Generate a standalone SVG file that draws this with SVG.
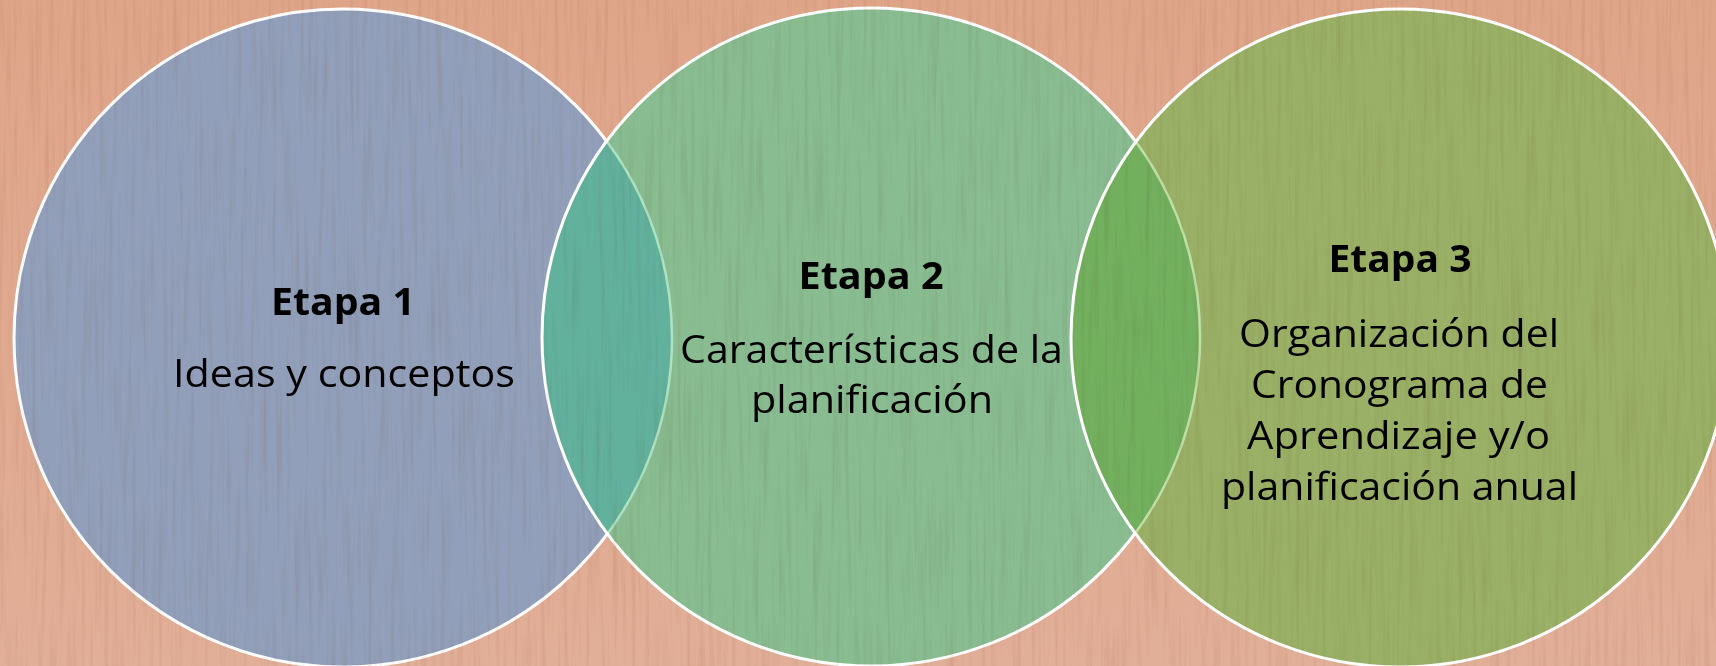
<svg xmlns="http://www.w3.org/2000/svg" width="1716" height="666" viewBox="0 0 1716 666">
<defs>
<style>
.t{font-family:"Open Sans","Noto Sans","DejaVu Sans",sans-serif;font-size:38px;fill:#000;text-anchor:middle}
.b{font-weight:700}
.ring{fill:none;stroke:#fff;stroke-width:3}
.pale{fill:none;stroke-width:2.5}
</style>
<linearGradient id="bg" x1="0" y1="0" x2="0" y2="1">
<stop offset="0" stop-color="#dfa589"/>
<stop offset="1" stop-color="#e1ae97"/>
</linearGradient>
<clipPath id="c1"><circle cx="343" cy="338" r="329"/></clipPath>
<clipPath id="c2"><circle cx="871" cy="337" r="329"/></clipPath>
<clipPath id="c3"><circle cx="1400" cy="338" r="329"/></clipPath>
<filter id="wood" x="0" y="0" width="1716" height="666" filterUnits="userSpaceOnUse">
<feTurbulence type="fractalNoise" baseFrequency="0.22 0.008" numOctaves="3" seed="7"/>
<feColorMatrix type="matrix" values="0 0 0 0 0.6  0 0 0 0 0.42  0 0 0 0 0.32  2 0 0 0 -0.95"/>
</filter>
</defs>
<rect width="1716" height="666" fill="url(#bg)"/>
<g id="etapa1">
<circle cx="343" cy="338" r="329" fill="#929fba"/>
<circle cx="343" cy="338" r="329" class="ring"/>
<text class="t b" x="343" y="315" textLength="144" lengthAdjust="spacingAndGlyphs">Etapa 1</text>
<text class="t" x="344" y="387" textLength="342" lengthAdjust="spacingAndGlyphs">Ideas y conceptos</text>
</g>
<g id="etapa2">
<circle cx="871" cy="337" r="329" fill="#89bc91"/>
<circle cx="343" cy="338" r="329" fill="#62b19d" clip-path="url(#c2)"/>
<circle cx="343" cy="338" r="329" class="pale" stroke="#ade3c3" clip-path="url(#c2)"/>
<circle cx="871" cy="337" r="329" class="ring"/>
<text class="t b" x="871" y="289" textLength="145" lengthAdjust="spacingAndGlyphs">Etapa 2</text>
<text class="t" x="871.5" y="363" textLength="383" lengthAdjust="spacingAndGlyphs">Características de la</text>
<text class="t" x="872" y="413" textLength="242" lengthAdjust="spacingAndGlyphs">planificación</text>
</g>
<g id="etapa3">
<circle cx="1400" cy="338" r="329" fill="#9ab066"/>
<circle cx="871" cy="337" r="329" fill="#72b05e" clip-path="url(#c3)"/>
<circle cx="871" cy="337" r="329" class="pale" stroke="#bfe0a6" clip-path="url(#c3)"/>
<circle cx="1400" cy="338" r="329" class="ring"/>
<text class="t b" x="1400" y="272" textLength="143" lengthAdjust="spacingAndGlyphs">Etapa 3</text>
<text class="t" x="1399" y="347" textLength="320" lengthAdjust="spacingAndGlyphs">Organización del</text>
<text class="t" x="1399.5" y="398" textLength="297" lengthAdjust="spacingAndGlyphs">Cronograma de</text>
<text class="t" x="1398.5" y="449" textLength="303" lengthAdjust="spacingAndGlyphs">Aprendizaje y/o</text>
<text class="t" x="1399.5" y="500" textLength="357" lengthAdjust="spacingAndGlyphs">planificación anual</text>
</g>
<g id="connectors"/>
<rect width="1716" height="666" filter="url(#wood)" opacity="0.28" style="mix-blend-mode:multiply" pointer-events="none"/>
</svg>
